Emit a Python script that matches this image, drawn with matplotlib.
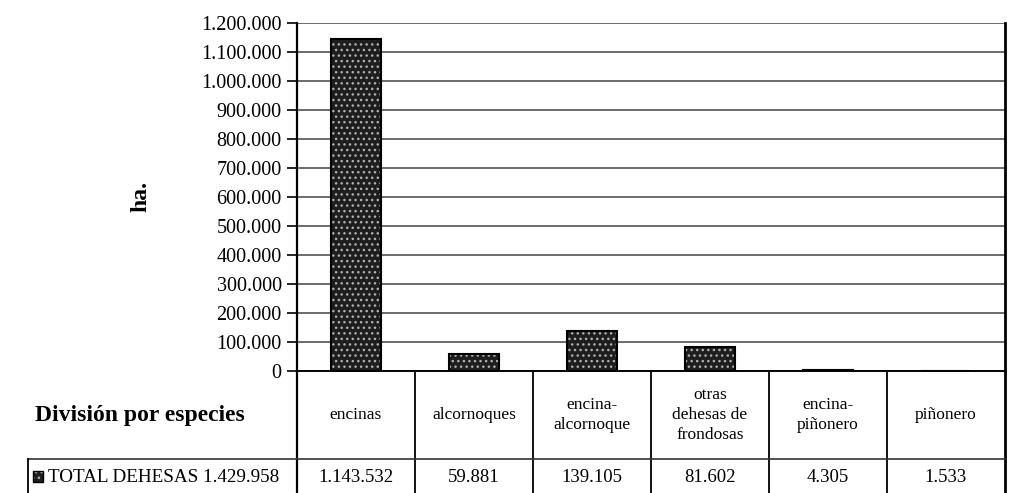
import matplotlib
matplotlib.use("Agg")
import matplotlib.pyplot as plt
from matplotlib.patches import Rectangle
from matplotlib.ticker import FuncFormatter
import matplotlib.transforms as mtransforms

categories = ["encinas", "alcornoques", "encina-\nalcornoque",
              "otras\ndehesas de\nfrondosas", "encina-\npiñonero", "piñonero"]
values = [1143532, 59881, 139105, 81602, 4305, 1533]
value_labels = ["1.143.532", "59.881", "139.105", "81.602", "4.305", "1.533"]
series_label = "TOTAL DEHESAS 1.429.958"
row_header = "División por especies"
y_label = "ha."
y_ticks = list(range(0, 1200001, 100000))

plt.rcParams['font.family'] = ['Liberation Serif', 'DejaVu Serif']

W, H = 1017, 493
fig = plt.figure(figsize=(W / 100, H / 100), dpi=100)
ax_l, ax_r, ax_b, ax_t = 297, 1005, 371, 23
ax = fig.add_axes([ax_l / W, 1 - ax_b / H, (ax_r - ax_l) / W, (ax_b - ax_t) / H])

x = list(range(len(categories)))
bw = 0.42
ax.bar(x, values, width=bw, color="#1e1e1e", edgecolor="#b0b0b0", hatch="...",
       linewidth=0, zorder=3)
ax.bar(x, values, width=bw, fill=False, edgecolor="black", linewidth=1.5, zorder=4)

ax.set_xlim(-0.5, len(categories) - 0.5)
ax.set_ylim(0, 1200000)
ax.set_yticks(y_ticks)
ax.yaxis.set_major_formatter(FuncFormatter(lambda v, p: f"{int(v):,}".replace(",", ".")))
ax.tick_params(axis="y", labelsize=14.5, length=7, width=1.2, direction="out", pad=4)
ax.set_xticks([])
for yv in y_ticks[1:]:
    ax.axhline(yv, color="#444444", linewidth=1.1, zorder=1)
ax.spines["top"].set_visible(False)
ax.spines["left"].set_linewidth(1.6)
ax.spines["right"].set_linewidth(2.0)
ax.spines["bottom"].set_linewidth(1.4)
ax.set_ylabel(y_label, fontsize=17, fontweight="bold", labelpad=36)

# table below the axes
trans = mtransforms.blended_transform_factory(ax.transData, ax.transAxes)
ph = ax_b - ax_t
def ay(py):
    return (ax_b - py) / ph

y_bot = ay(500)
for b in [i + 0.5 for i in range(len(categories) - 1)]:
    ax.plot([b, b], [0, y_bot], transform=trans, color="black", lw=1.3, clip_on=False)
ax.plot([-0.5, -0.5], [0, y_bot], transform=trans, color="black", lw=1.6, clip_on=False)
ax.plot([5.5, 5.5], [0, y_bot], transform=trans, color="black", lw=2.0, clip_on=False)

figtr = fig.transFigure
def fy(py):
    return 1 - py / H
fig.add_artist(plt.Line2D([28 / W, ax_r / W], [fy(459), fy(459)], color="#333333", lw=1.2))
fig.add_artist(plt.Line2D([28 / W, 28 / W], [fy(459), fy(500)], color="black", lw=1.3))

for i, (c, v) in enumerate(zip(categories, value_labels)):
    ax.text(i, ay(415), c, transform=trans, ha="center", va="center",
            fontsize=12.5, linespacing=1.3, clip_on=False)
    ax.text(i, ay(477), v, transform=trans, ha="center", va="center",
            fontsize=13.5, clip_on=False)

fig.text(35 / W, fy(415), row_header, ha="left", va="center", fontsize=17, fontweight="bold")
fig.add_artist(Rectangle((33 / W, fy(482)), 10 / W, 11 / H, transform=figtr,
                         facecolor="#1e1e1e", edgecolor="#b0b0b0", hatch="...", lw=0))
fig.add_artist(Rectangle((33 / W, fy(482)), 10 / W, 11 / H, transform=figtr,
                         fill=False, edgecolor="black", lw=1.0))
fig.text(48 / W, fy(477), series_label, ha="left", va="center", fontsize=13.8)

fig.savefig("out.png", dpi=100)
